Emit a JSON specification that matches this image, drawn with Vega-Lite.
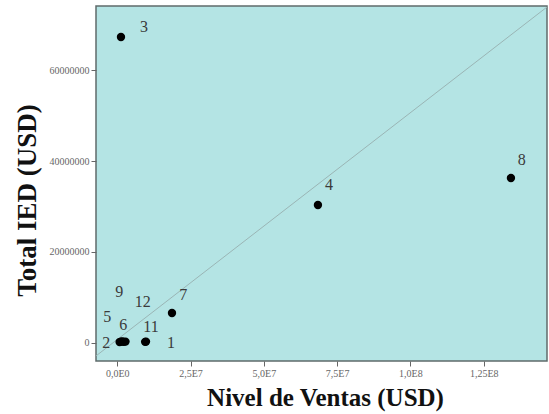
{
  "$schema": "https://vega.github.io/schema/vega-lite/v6.json",
  "width": 451,
  "height": 355,
  "autosize": "none",
  "padding": {"left": 96, "top": 6, "right": 2, "bottom": 53},
  "background": "white",
  "config": {
    "view": {"fill": "#b4e4e4", "stroke": "#5f6b6b", "strokeWidth": 1.5},
    "axis": {"grid": false, "domain": false, "labelFont": "Liberation Serif", "labelFontSize": 10, "labelColor": "#666666", "tickColor": "#666666", "tickSize": 5, "labelPadding": 2, "titleFont": "Liberation Serif", "titleFontWeight": "bold", "titleColor": "#111111", "titleBaseline": "alphabetic"}
  },
  "datasets": {
    "points": [
      {"id": "1", "ventas": 9800000, "ied": 300000},
      {"id": "2", "ventas": 800000, "ied": 200000},
      {"id": "3", "ventas": 1260000, "ied": 67250000},
      {"id": "4", "ventas": 68450000, "ied": 30330000},
      {"id": "5", "ventas": 1200000, "ied": 300000},
      {"id": "6", "ventas": 2200000, "ied": 250000},
      {"id": "7", "ventas": 18660000, "ied": 6590000},
      {"id": "8", "ventas": 134300000, "ied": 36260000},
      {"id": "9", "ventas": 1700000, "ied": 350000},
      {"id": "11", "ventas": 9500000, "ied": 250000},
      {"id": "12", "ventas": 2800000, "ied": 300000}
    ],
    "labels": [
      {"id": "1", "lx": 18300000, "ly": 0},
      {"id": "2", "lx": -3800000, "ly": 0},
      {"id": "3", "lx": 9100000, "ly": 69450000},
      {"id": "4", "lx": 72200000, "ly": 34700000},
      {"id": "5", "lx": -3400000, "ly": 5800000},
      {"id": "6", "lx": 2000000, "ly": 3960000},
      {"id": "7", "lx": 22500000, "ly": 10550000},
      {"id": "8", "lx": 138000000, "ly": 40200000},
      {"id": "9", "lx": 700000, "ly": 11300000},
      {"id": "11", "lx": 11500000, "ly": 3450000},
      {"id": "12", "lx": 8700000, "ly": 9000000}
    ],
    "refline": [
      {"x1": -7260000, "y1": -2850000, "x2": 146600000, "y2": 73850000}
    ]
  },
  "layer": [
    {
      "data": {"name": "refline"},
      "mark": {"type": "rule", "color": "#9ab5b5", "strokeWidth": 1},
      "encoding": {
        "x": {"field": "x1", "type": "quantitative", "scale": {"domain": [-7260000, 146600000], "nice": false, "zero": false},
          "axis": {"values": [0, 25000000, 50000000, 75000000, 100000000, 125000000], "title": "Nivel de Ventas (USD)", "titleFontSize": 25, "titleY": 44, "titleX": 229,
            "labelExpr": "datum.value == 0 ? '0,0E0' : datum.value == 25000000 ? '2,5E7' : datum.value == 50000000 ? '5,0E7' : datum.value == 75000000 ? '7,5E7' : datum.value == 100000000 ? '1,0E8' : '1,25E8'"}},
        "y": {"field": "y1", "type": "quantitative", "scale": {"domain": [-3960000, 74070000], "nice": false, "zero": false},
          "axis": {"values": [0, 20000000, 40000000, 60000000], "format": "d", "title": "Total IED (USD)", "titleFontSize": 27, "titleX": -61, "titleY": 194}},
        "x2": {"field": "x2"},
        "y2": {"field": "y2"}
      }
    },
    {
      "data": {"name": "points"},
      "mark": {"type": "circle", "color": "#000000", "opacity": 1, "size": 70},
      "encoding": {
        "x": {"field": "ventas", "type": "quantitative"},
        "y": {"field": "ied", "type": "quantitative"}
      }
    },
    {
      "data": {"name": "labels"},
      "mark": {"type": "text", "font": "Liberation Serif", "fontSize": 16, "color": "#3a3a3a", "align": "center", "baseline": "middle"},
      "encoding": {
        "x": {"field": "lx", "type": "quantitative"},
        "y": {"field": "ly", "type": "quantitative"},
        "text": {"field": "id"}
      }
    }
  ]
}
